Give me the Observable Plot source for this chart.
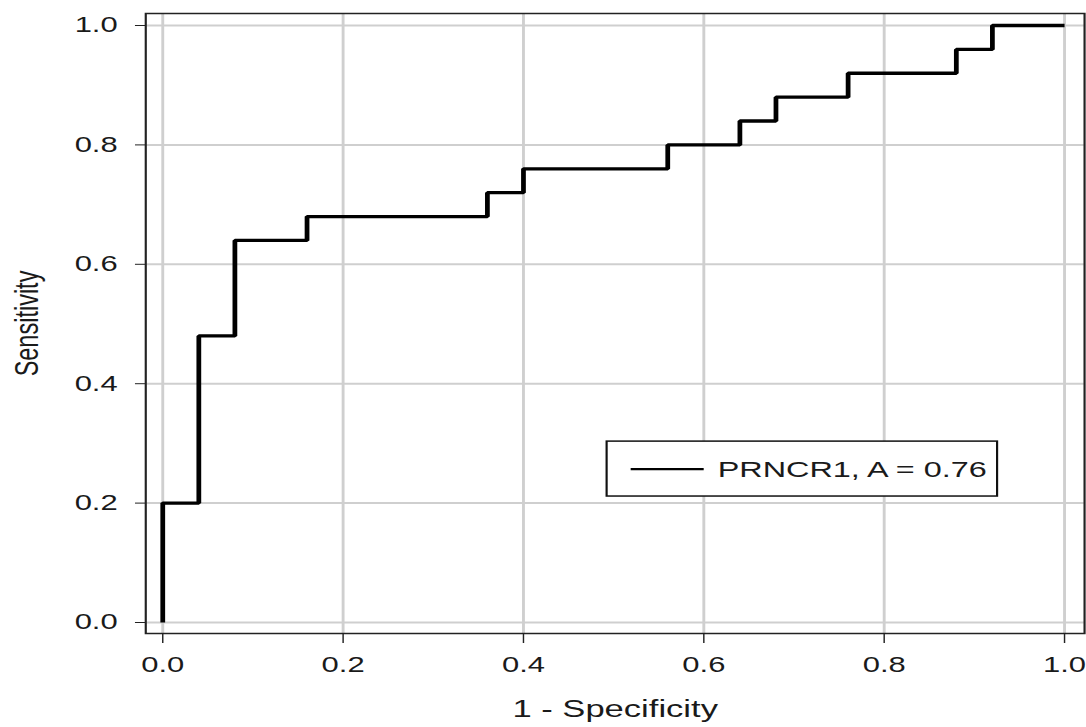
<!DOCTYPE html>
<html>
<head>
<meta charset="utf-8">
<script src="https://cdn.jsdelivr.net/npm/d3@7"></script>
<script src="https://cdn.jsdelivr.net/npm/@observablehq/plot@0.6"></script>
<style>
  html, body { margin: 0; padding: 0; background: #fff; }
  #chart { width: 1086px; height: 727px; overflow: hidden; }
</style>
</head>
<body>
<div id="chart"></div>
<script>
// ROC curve corner points (1 - specificity, sensitivity)
const fpr = [0, 0, 0.04, 0.08, 0.16, 0.36, 0.40, 0.56, 0.64, 0.68, 0.76, 0.88, 0.92, 1.0];
const tpr = [0, 0.20, 0.48, 0.64, 0.68, 0.72, 0.76, 0.80, 0.84, 0.88, 0.92, 0.96, 1.0, 1.0];
const xTicks = [0, 0.2, 0.4, 0.6, 0.8, 1.0];
const yTicks = [0, 0.2, 0.4, 0.6, 0.8, 1.0];
const seriesName = "PRNCR1";
const auc = 0.76;
const xLabel = "1 - Specificity";
const yLabel = "Sensitivity";

const points = fpr.map((f, i) => ({fpr: f, tpr: tpr[i]}));

// the reference is horizontally stretched: draw narrow, then stretch
const OUT_W = 1086, OUT_H = 727;
const INNER_W = 754;

const legendBox = {x1: 0.493, x2: 0.926, y1: 0.303, y2: 0.211};

function legendMark(index, scales, values, dims) {
  const g = d3.create("svg:g");
  const X1 = scales.x(legendBox.x1), X2 = scales.x(legendBox.x2);
  const Y1 = scales.y(legendBox.y1), Y2 = scales.y(legendBox.y2);
  const cy = (Y1 + Y2) / 2 + 0.5;
  g.append("rect")
    .attr("x", X1).attr("y", Y1)
    .attr("width", X2 - X1).attr("height", Y2 - Y1)
    .attr("fill", "white").attr("stroke", "#111").attr("stroke-width", 1.5);
  g.append("line")
    .attr("x1", X1 + 16.7).attr("x2", X1 + 67.4)
    .attr("y1", cy).attr("y2", cy)
    .attr("stroke", "black").attr("stroke-width", 2.2);
  g.append("text")
    .attr("x", X1 + 77.1).attr("y", cy).attr("dy", "0.36em")
    .attr("text-anchor", "start")
    .attr("font-size", 22.5).attr("fill", "#1a1a1a")
    .text(`${seriesName}, A = ${auc.toFixed(2)}`);
  return g.node();
}

const svg = Plot.plot({
  width: INNER_W,
  height: OUT_H,
  marginLeft: 100.7,
  marginRight: 1.5,
  marginTop: 13,
  marginBottom: 94,
  style: {fontFamily: "'Liberation Sans', Arial, sans-serif", fontSize: "21.5px", color: "#1a1a1a", background: "white"},
  x: {domain: [0, 1], insetLeft: 11.8, insetRight: 13.9},
  y: {domain: [0, 1], insetTop: 12, insetBottom: 11},
  marks: [
    Plot.gridX(xTicks, {stroke: "#cfcfcf", strokeOpacity: 1, strokeWidth: 2}),
    Plot.gridY(yTicks, {stroke: "#cfcfcf", strokeOpacity: 1, strokeWidth: 2}),
    Plot.frame({stroke: "#222", strokeWidth: 1.5}),
    Plot.line(points, {x: "fpr", y: "tpr", curve: "step-after", stroke: "black", strokeWidth: 3.3,
      strokeLinejoin: "miter", strokeLinecap: "butt"}),
    legendMark,
    Plot.axisX(xTicks, {tickFormat: d3.format(".1f"), tickSize: 10, tickPadding: 13.5, fontSize: 21.5, label: null, stroke: "#222"}),
    Plot.axisY(yTicks, {tickFormat: d3.format(".1f"), tickSize: 7, tickPadding: 12.5, fontSize: 21.5, label: null, stroke: "#222"}),
    Plot.text([xLabel], {text: d => d, frameAnchor: "bottom", dy: 76, lineAnchor: "middle", fontSize: 24, fill: "#1a1a1a"}),
    Plot.text([yLabel], {text: d => d, frameAnchor: "left", dx: -82, rotate: -90, lineAnchor: "middle", textAnchor: "middle", fontSize: 23.5, fill: "#1a1a1a"})
  ]
});

svg.setAttribute("viewBox", `0 0 ${INNER_W} ${OUT_H}`);
svg.setAttribute("width", OUT_W);
svg.setAttribute("height", OUT_H);
svg.setAttribute("preserveAspectRatio", "none");
svg.style.width = OUT_W + "px";
svg.style.height = OUT_H + "px";
svg.style.maxWidth = "none";
svg.style.display = "block";
document.getElementById("chart").appendChild(svg);
</script>
</body>
</html>
